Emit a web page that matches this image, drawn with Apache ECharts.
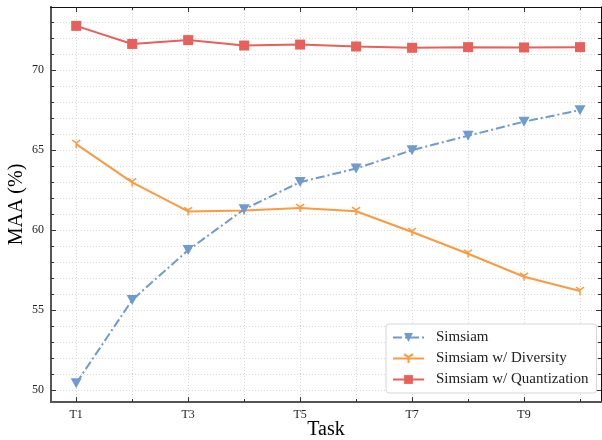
<!DOCTYPE html>
<html>
<head>
<meta charset="utf-8">
<script src="https://cdn.jsdelivr.net/npm/echarts@6/dist/echarts.min.js"></script>
<style>
  html, body { margin: 0; padding: 0; background: #fff; }
  #main { width: 602px; height: 440px; }
</style>
</head>
<body>
<div id="main"></div>
<script>
// data
const tasks = ['T1', 'T2', 'T3', 'T4', 'T5', 'T6', 'T7', 'T8', 'T9', 'T10'];
const simsiam = [50.42, 55.63, 58.75, 61.3, 63.0, 63.85, 65.0, 65.9, 66.78, 67.5];
const diversity = [65.38, 62.98, 61.17, 61.23, 61.38, 61.18, 59.88, 58.52, 57.08, 56.19];
const quantization = [72.77, 71.64, 71.88, 71.54, 71.6, 71.48, 71.4, 71.44, 71.42, 71.44];
const yMajor = [50, 55, 60, 65, 70];
const yMinor = [50, 51, 52, 53, 54, 55, 56, 57, 58, 59, 60, 61, 62, 63, 64, 65, 66, 67, 68, 69, 70, 71, 72, 73];
const xAll = [1, 2, 3, 4, 5, 6, 7, 8, 9, 10];
const xMajor = [1, 3, 5, 7, 9];

const FONT = '"Liberation Serif", "DejaVu Serif", serif';
const toPts = arr => arr.map((v, i) => [i + 1, v]);
const X_MIN = 0.55, X_MAX = 10.375, Y_MIN = 49.25, Y_MAX = 73.95;

const chart = echarts.init(document.getElementById('main'));

const triDown = 'path://M0,0L5,3.5L10,0M5,3.5L5,10';
const dots = { color: '#d8d8d8', type: [1, 2], width: 1 };

function xAx(pos, ticks, len, opts) {
  return Object.assign({
    type: 'value', position: pos, min: X_MIN, max: X_MAX,
    axisLine: { show: true, onZero: false, lineStyle: pos === 'bottom' ? { color: '#555', width: 2 } : { color: '#111', width: 1 } },
    axisTick: { show: true, inside: true, length: len, customValues: ticks, lineStyle: { color: '#333' } },
    axisLabel: { show: false },
    splitLine: { show: false }
  }, opts || {});
}
function yAx(pos, ticks, len, opts) {
  return Object.assign({
    type: 'value', position: pos, min: Y_MIN, max: Y_MAX,
    axisLine: { show: true, onZero: false, lineStyle: pos === 'left' ? { color: '#555', width: 2 } : { color: '#111', width: 1 } },
    axisTick: { show: true, inside: true, length: len, customValues: ticks, lineStyle: { color: '#333' } },
    axisLabel: { show: false },
    splitLine: { show: false }
  }, opts || {});
}

chart.setOption({
  animation: false,
  textStyle: { fontFamily: FONT },
  grid: { left: 51, right: 1, top: 7, bottom: 38, containLabel: false, outerBoundsMode: 'none' },
  xAxis: [
    xAx('bottom', xAll, 3, { splitLine: { show: true, lineStyle: dots } }),
    xAx('bottom', xMajor, 5, {
      name: 'Task', nameLocation: 'middle', nameGap: 18, nameMoveOverlap: false,
      nameTextStyle: { fontSize: 20, color: '#000', fontFamily: FONT },
      axisLabel: { show: true, customValues: xMajor, fontSize: 12, color: '#222', margin: 7, fontFamily: FONT,
        formatter: v => tasks[Math.round(v) - 1] }
    }),
    xAx('top', xAll, 3),
    xAx('top', xMajor, 5)
  ],
  yAxis: [
    yAx('left', yMinor, 3, { splitLine: { show: true, lineStyle: dots } }),
    yAx('left', yMajor, 5, {
      name: 'MAA (%)', nameLocation: 'middle', nameGap: 24, nameMoveOverlap: false,
      nameTextStyle: { fontSize: 20, color: '#000', fontFamily: FONT },
      axisLabel: { show: true, customValues: yMajor, fontSize: 12, color: '#222', margin: 7, fontFamily: FONT }
    }),
    yAx('right', yMinor, 3),
    yAx('right', yMajor, 5)
  ],
  legend: {
    orient: 'vertical',
    left: 386,
    top: 324,
    padding: [6, 8, 6, 6],
    itemWidth: 31,
    itemHeight: 11,
    itemGap: 6,
    backgroundColor: '#fff',
    borderColor: '#d6d6d6',
    borderWidth: 1,
    borderRadius: 3,
    textStyle: { fontSize: 15, color: '#222', fontFamily: FONT, padding: [0, 0, 0, 7] },
    data: ['Simsiam', 'Simsiam w/ Diversity', 'Simsiam w/ Quantization']
  },
  series: [{
    name: 'Simsiam',
    type: 'line',
    data: toPts(simsiam),
    symbol: 'triangle',
    symbolRotate: 180,
    symbolSize: [11, 10],
    itemStyle: { color: '#6d9bd2' },
    lineStyle: { color: '#6d9bd2', width: 2, type: [9, 3, 2, 3] },
    z: 3
  }, {
    name: 'Simsiam w/ Diversity',
    type: 'line',
    data: toPts(diversity),
    symbol: triDown,
    symbolSize: [8, 8],
    itemStyle: { color: 'rgba(0,0,0,0)', borderColor: '#fd9a3f', borderWidth: 1.5 },
    lineStyle: { color: '#fd9a3f', width: 2 },
    z: 2
  }, {
    name: 'Simsiam w/ Quantization',
    type: 'line',
    data: toPts(quantization),
    symbol: 'rect',
    symbolSize: 10,
    itemStyle: { color: '#e8605a' },
    lineStyle: { color: '#e8605a', width: 2 },
    z: 4
  }]
});
</script>
</body>
</html>
